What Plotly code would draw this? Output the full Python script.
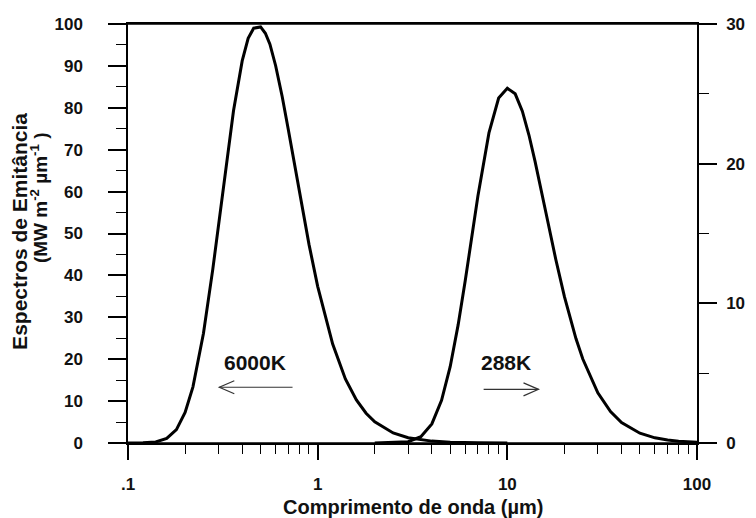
import math
import plotly.graph_objects as go

# wavelength (um) and spectral exitance
wl_6000 = [0.10, 0.12, 0.14, 0.16, 0.18, 0.20, 0.22, 0.25, 0.28, 0.30, 0.33, 0.36,
           0.40, 0.43, 0.46, 0.50, 0.53, 0.56, 0.60, 0.65, 0.70, 0.80, 0.90, 1.0,
           1.2, 1.4, 1.6, 1.8, 2.0, 2.5, 3.0, 4.0, 5.0, 7.0, 10.0]
em_6000 = [0.0, 0.03, 0.25, 1.1, 3.2, 7.3, 13.4, 26.2, 41.5, 52.0, 66.8, 79.3,
           91.2, 96.6, 99.0, 99.3, 97.8, 95.2, 90.1, 82.7, 74.8, 60.0, 47.4, 37.4,
           23.6, 15.3, 10.3, 7.1, 5.05, 2.4, 1.26, 0.45, 0.19, 0.05, 0.015]

wl_288 = [2.0, 3.0, 3.5, 4.0, 4.5, 5.0, 5.5, 6.0, 7.0, 8.0, 9.0, 10.0, 11.0, 12.0,
          13.0, 14.0, 16.0, 18.0, 20.0, 23.0, 25.0, 30.0, 35.0, 40.0, 50.0, 60.0,
          70.0, 80.0, 100.0]
em_288 = [0.0, 0.09, 0.45, 1.37, 3.06, 5.48, 8.44, 11.63, 17.7, 22.2, 24.7, 25.4,
          25.0, 23.76, 22.05, 20.17, 16.45, 13.16, 10.48, 7.48, 6.01, 3.59, 2.25,
          1.47, 0.70, 0.37, 0.21, 0.13, 0.06]

x_ticks = [0.1, 1, 10, 100]
x_ticktext = [".1", "1", "10", "100"]
x_minor = [m * d for d in (0.1, 1, 10) for m in range(2, 10)]

FONT = "Liberation Sans"
INK = "#111111"

fig = go.Figure()
fig.add_trace(go.Scatter(x=wl_6000, y=em_6000, mode="lines",
                         line=dict(color="black", width=3), yaxis="y",
                         showlegend=False, hoverinfo="skip"))
fig.add_trace(go.Scatter(x=wl_288, y=em_288, mode="lines",
                         line=dict(color="black", width=3), yaxis="y2",
                         showlegend=False, hoverinfo="skip"))

tickfont = dict(family=FONT, size=17, color=INK, weight="bold")
titlefont = dict(family=FONT, size=21, color=INK, weight="bold")

fig.update_layout(
    width=756, height=518,
    margin=dict(l=128, r=59, t=24, b=75),
    paper_bgcolor="white", plot_bgcolor="white",
    xaxis=dict(type="log", range=[-1, 2], tickvals=x_ticks, ticktext=x_ticktext,
               ticks="outside", ticklen=15, tickwidth=1.5, tickcolor="black",
               minor=dict(tickvals=x_minor, ticks="outside", ticklen=9,
                          tickwidth=1.2, tickcolor="black", showgrid=False),
               showline=True, linecolor="black", linewidth=1.5, mirror=True,
               showgrid=False, zeroline=False, tickfont=tickfont,
               ticklabelstandoff=10, automargin=False),
    yaxis=dict(range=[0, 100], dtick=10, ticks="outside", ticklen=18, tickwidth=1.5,
               tickcolor="black",
               minor=dict(dtick=5, ticks="outside", ticklen=10, tickwidth=1.2,
                          tickcolor="black", showgrid=False),
               showline=True, linecolor="black", linewidth=1.5,
               showgrid=False, zeroline=False, tickfont=tickfont,
               ticklabelstandoff=22, automargin=False),
    yaxis2=dict(range=[0, 30], dtick=10, overlaying="y", side="right",
                ticks="outside", ticklen=18, tickwidth=1.5, tickcolor="black",
                minor=dict(dtick=5, ticks="outside", ticklen=10, tickwidth=1.2,
                           tickcolor="black", showgrid=False),
                showline=True, linecolor="black", linewidth=1.5,
                showgrid=False, zeroline=False, tickfont=tickfont,
                ticklabelstandoff=6, automargin=False),
)

# x-axis title
fig.add_annotation(xref="paper", yref="paper", x=0.5, y=-0.152,
                   xanchor="center", yanchor="middle",
                   text="Comprimento de onda (\u00b5m)", showarrow=False,
                   font=dict(family=FONT, size=20, color=INK, weight="bold"))

# y-axis title, two tightly spaced rotated lines
fig.add_annotation(xref="paper", yref="paper", x=-0.19, y=0.506,
                   xanchor="center", yanchor="middle",
                   text="Espectros de Emit\u00e2ncia",
                   textangle=-90, showarrow=False, font=titlefont)
fig.add_annotation(xref="paper", yref="paper", x=-0.156, y=0.585,
                   xanchor="center", yanchor="middle",
                   text="(MW m<sup>-2</sup> \u00b5m<sup>-1</sup> )",
                   textangle=-90, showarrow=False,
                   font=dict(family=FONT, size=19, color=INK, weight="bold"))

# extended baseline and top border as in the original
fig.add_shape(type="line", xref="paper", yref="paper", x0=-0.035, x1=1.03, y0=0, y1=0,
              line=dict(color="black", width=1.5))
fig.add_shape(type="line", xref="paper", yref="paper", x0=-0.035, x1=1.0, y0=1, y1=1,
              line=dict(color="black", width=1.5))

ann_font = dict(family=FONT, size=21, color=INK, weight="bold")
fig.add_annotation(x=math.log10(0.468), y=19.3, xref="x", yref="y", text="6000K",
                   showarrow=False, font=ann_font)
fig.add_annotation(x=math.log10(9.83), y=19.3, xref="x", yref="y", text="288K",
                   showarrow=False, font=ann_font)

# arrows: shaft lines plus open chevron heads (pixel-sized)
arrow_col = "#333333"
fig.add_shape(type="line", xref="x", yref="y", x0=0.303, x1=0.737, y0=13.3, y1=13.3,
              line=dict(color=arrow_col, width=1.2))
fig.add_shape(type="path", xref="x", yref="y", xsizemode="pixel", ysizemode="pixel",
              xanchor=0.303, yanchor=13.3, path="M 15,-6.5 L 0,0 L 15,6.5",
              line=dict(color=arrow_col, width=1.2))
fig.add_shape(type="line", xref="x", yref="y", x0=7.5, x1=14.6, y0=12.8, y1=12.8,
              line=dict(color=arrow_col, width=1.2))
fig.add_shape(type="path", xref="x", yref="y", xsizemode="pixel", ysizemode="pixel",
              xanchor=14.6, yanchor=12.8, path="M -15,-6.5 L 0,0 L -15,6.5",
              line=dict(color=arrow_col, width=1.2))

fig.write_html("out.html")
